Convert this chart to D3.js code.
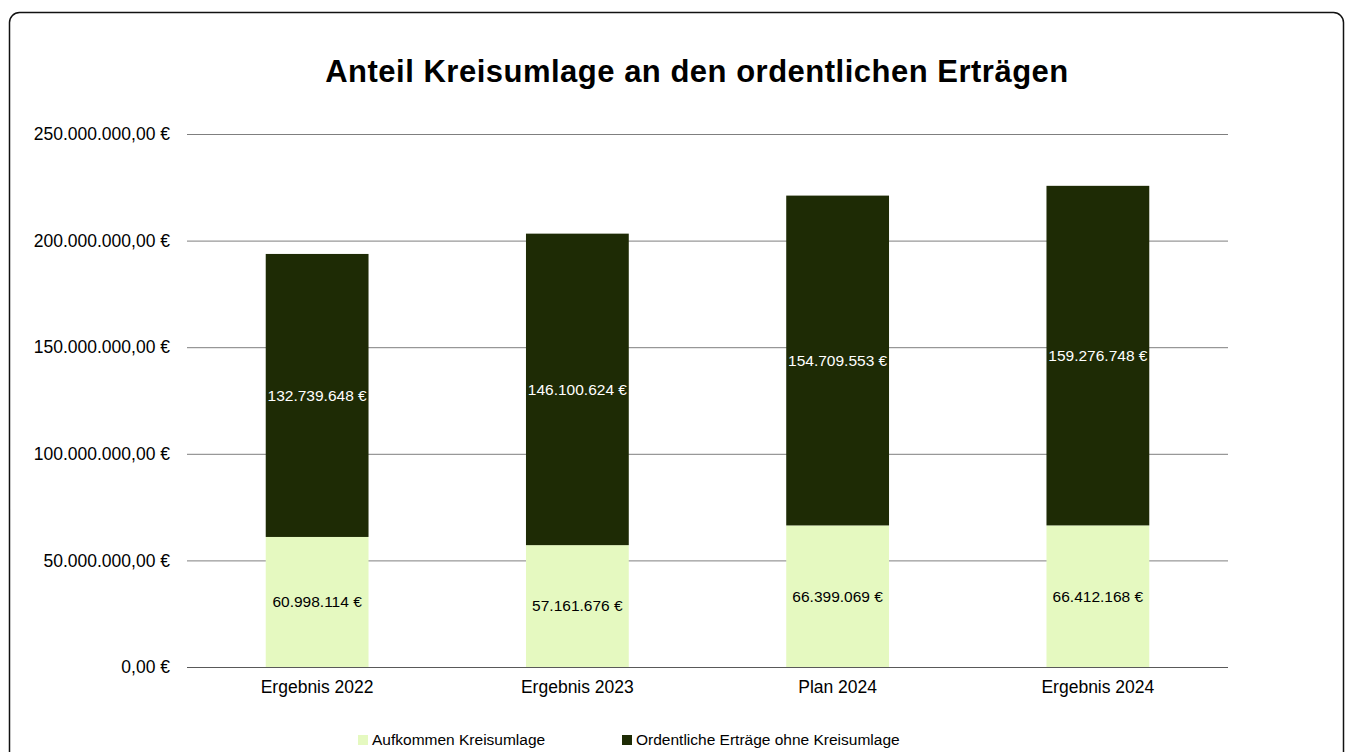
<!DOCTYPE html>
<html>
<head>
<meta charset="utf-8">
<script src="https://cdn.jsdelivr.net/npm/d3@7"></script>
<style>
  body { margin: 0; background: #fff; }
  svg { display: block; font-family: "Liberation Sans", Arial, sans-serif; }
</style>
</head>
<body>
<svg id="chart"></svg>
<script>
// Daten
const categories = ["Ergebnis 2022", "Ergebnis 2023", "Plan 2024", "Ergebnis 2024"];
const kreisumlage = [60998114, 57161676, 66399069, 66412168];
const ertraege = [132739648, 146100624, 154709553, 159276748];
const yTicks = [0, 50000000, 100000000, 150000000, 200000000, 250000000];
const seriesNames = ["Aufkommen Kreisumlage", "Ordentliche Erträge ohne Kreisumlage"];
const colors = ["#e5f9c0", "#1e2b05"];

const width = 1348;
const height = 752;
const margin = { top: 134, right: 120, bottom: 85, left: 187 };

const svg = d3.select("#chart")
    .attr("width", width)
    .attr("height", height);

const de = d3.formatLocale({ decimal: ",", thousands: ".", grouping: [3], currency: ["", " €"] });
const fmtAxis = v => de.format(",.2f")(v) + " €";
const fmtLabel = v => de.format(",.0f")(v) + " €";

// Rahmen
svg.append("rect")
    .attr("x", 9.5).attr("y", 12.5)
    .attr("width", 1334).attr("height", 780)
    .attr("rx", 10)
    .attr("fill", "#fff")
    .attr("stroke", "#111")
    .attr("stroke-width", 1.5);

// Titel
svg.append("text")
    .attr("x", 697).attr("y", 82)
    .attr("text-anchor", "middle")
    .style("font-size", "31px")
    .style("font-weight", "bold")
    .style("letter-spacing", "0.5px")
    .text("Anteil Kreisumlage an den ordentlichen Erträgen");

const table = categories.map((c, i) => ({ cat: c, k: kreisumlage[i], e: ertraege[i] }));
const stacked = d3.stack().keys(["k", "e"])(table);

const x = d3.scaleBand()
    .domain(categories)
    .range([margin.left, width - margin.right])
    .padding(0);

const y = d3.scaleLinear()
    .domain([0, 250000000])
    .range([height - margin.bottom, margin.top]);

const barW = x.bandwidth() * 0.395;

// Y-Achse mit Gitternetz
const yAxis = svg.append("g")
    .attr("transform", `translate(${margin.left},0)`)
    .call(d3.axisLeft(y)
        .tickValues(yTicks)
        .tickSize(-(width - margin.left - margin.right))
        .tickPadding(17)
        .tickFormat(fmtAxis));
yAxis.select(".domain").remove();
yAxis.selectAll("line").attr("stroke", d => d === 0 ? "#595959" : "#7f7f7f").attr("stroke-width", 1);
yAxis.selectAll("text")
    .attr("fill", "#000")
    .style("font-size", "17.5px")
    .style("font-family", "'Liberation Sans', Arial, sans-serif");

// X-Achse
const xAxis = svg.append("g")
    .attr("transform", `translate(0,${height - margin.bottom})`)
    .call(d3.axisBottom(x).tickSize(0).tickPadding(14));
xAxis.select(".domain").remove();
xAxis.selectAll("text")
    .attr("fill", "#000")
    .style("font-size", "17.5px")
    .style("font-family", "'Liberation Sans', Arial, sans-serif");

// Balken
const layers = svg.selectAll(".layer")
    .data(stacked)
    .enter()
    .append("g")
    .attr("fill", (d, i) => colors[i]);

layers.selectAll("rect")
    .data(d => d)
    .enter()
    .append("rect")
    .attr("x", d => x(d.data.cat) + (x.bandwidth() - barW) / 2)
    .attr("y", d => y(d[1]))
    .attr("width", barW)
    .attr("height", d => y(d[0]) - y(d[1]));

// Datenbeschriftungen
stacked.forEach((layer, li) => {
    svg.append("g")
        .selectAll("text")
        .data(layer)
        .enter()
        .append("text")
        .attr("x", d => x(d.data.cat) + x.bandwidth() / 2)
        .attr("y", d => y((d[0] + d[1]) / 2))
        .attr("dy", "0.35em")
        .attr("text-anchor", "middle")
        .attr("fill", li === 0 ? "#000" : "#fff")
        .style("font-size", "15.5px")
        .text(d => fmtLabel(d[1] - d[0]));
});

// Legende
const legend = svg.append("g")
    .attr("transform", "translate(358,740)");
const legX = [0, 264];
seriesNames.forEach((name, i) => {
    legend.append("rect")
        .attr("x", legX[i]).attr("y", -5)
        .attr("width", 10).attr("height", 10)
        .attr("fill", colors[i]);
    legend.append("text")
        .attr("x", legX[i] + 14).attr("y", 0)
        .attr("dy", "0.35em")
        .style("font-size", "15.5px")
        .text(name);
});
</script>
</body>
</html>
